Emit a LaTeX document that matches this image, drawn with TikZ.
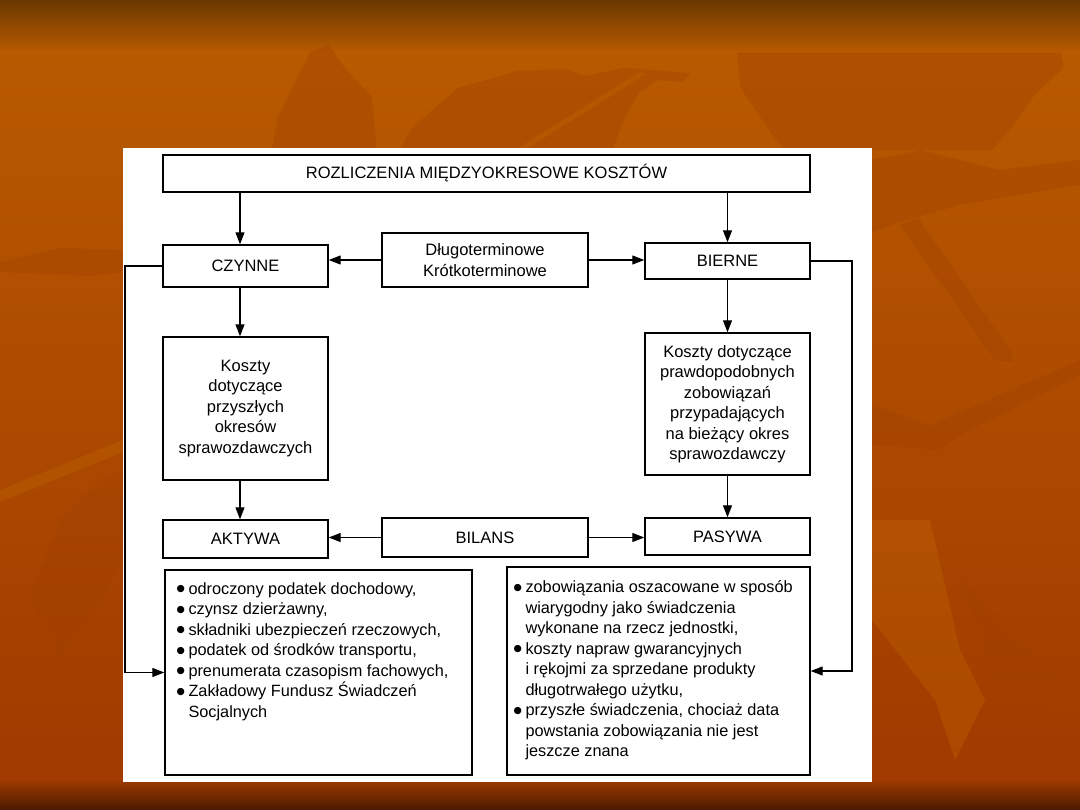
\documentclass[tikz,border=0pt]{standalone}
\usepackage{fontspec}
\setmainfont{Liberation Sans}
\newfontfamily\symf{DejaVu Sans}
\usetikzlibrary{arrows.meta,calc}
\definecolor{bgtop}{HTML}{6A3800}
\definecolor{bgmain}{HTML}{B85A00}
\definecolor{bglow}{HTML}{A03A00}
\definecolor{bgbot}{HTML}{4A1A00}
\definecolor{leafdark}{HTML}{A04000}
\definecolor{leaflight}{HTML}{C46C00}
\newcommand{\mybul}{\makebox[12pt][l]{\raisebox{2.4pt}{\symf\fontsize{9.5}{0}\selectfont ●}}}
\newcommand{\myind}{\hspace*{12pt}}
\begin{document}
\begin{tikzpicture}[x=1pt,y=-1pt,
  box/.style={draw=black, line width=1.4pt, fill=white, inner sep=0pt, align=center,
              font=\fontsize{16.5}{20.5}\selectfont},
  listtext/.style={inner sep=0pt, align=left, font=\fontsize{16.3}{20.5}\selectfont},
  arr/.style={draw=black, line width=1.2pt, -{Triangle[length=12pt,width=9pt]}},
  leafd/.style={fill=leafdark, opacity=0.35},
  leafl/.style={fill=leaflight, opacity=0.3}
]
\useasboundingbox (0,0) rectangle (1080,810);
% background
\shade[top color=bgtop, bottom color=bgmain] (0,0) rectangle (1080,52);
\shade[top color=bgmain, bottom color=bglow] (0,52) rectangle (1080,780);
\shade[top color=bglow, bottom color=bgbot] (0,780) rectangle (1080,810);
% decorative leaves
\fill[leafd] (272,150) -- (278,117) -- (310,52) -- (329,45) -- (344,67) -- (372,97) -- (377,150) -- cycle;
\fill[leafd] (399,150) -- (413,127) -- (458,88) -- (517,71) -- (565,69) -- (585,76) -- (623,68) -- (668,71) -- (691,74) -- (682,82) -- (658,80) -- (640,92) -- (627,113) -- (612,150) -- cycle;
\fill[leafl] (515,150) -- (640,72) -- (646,74) -- (525,150) -- cycle;
\fill[leafd] (737,53) -- (1061,53) -- (1064,67) -- (1033,97) -- (1012,127) -- (992,150) -- (785,150) -- (771,133) -- (740,87) -- cycle;
\fill[leafd] (0,262) -- (60,248) -- (123,250) -- (123,272) -- (90,276) -- (0,272) -- cycle;
\fill[leafl] (0,490) -- (123,440) -- (123,452) -- (0,502) -- cycle;
\fill[leafd] (30,600) -- (60,520) -- (100,480) -- (123,470) -- (123,560) -- (90,620) -- (60,660) -- cycle;
\fill[leafd] (872,160) -- (920,150) -- (1000,170) -- (1080,160) -- (1080,185) -- (960,205) -- (900,222) -- (872,232) -- cycle;
\fill[leafd] (900,225) -- (918,218) -- (1010,350) -- (1013,362) -- (995,360) -- cycle;
\fill[leafd] (872,405) -- (930,425) -- (1080,360) -- (1080,375) -- (960,435) -- (940,450) -- (872,445) -- cycle;
\fill[leafl] (872,520) -- (930,520) -- (960,650) -- (985,700) -- (955,760) -- (935,700) -- (872,620) -- cycle;
\fill[leafd] (960,580) -- (1030,650) -- (1060,680) -- (1080,690) -- (1080,715) -- (1000,700) -- cycle;
% white panel
\fill[white] (123,148) rectangle (872,782);
% boxes
\node[box, minimum width=647pt, minimum height=37pt] (top) at (486.5,173.5) {ROZLICZENIA MIĘDZYOKRESOWE KOSZTÓW};
\node[box, minimum width=165pt, minimum height=42pt] (czynne) at (245.5,266) {CZYNNE};
\node[box, minimum width=206pt, minimum height=54pt] (dlug) at (485,260) {Długoterminowe\\Krótkoterminowe};
\node[box, minimum width=165pt, minimum height=36pt] (bierne) at (727.5,261) {BIERNE};
\node[box, minimum width=165pt, minimum height=143pt] (kl) at (245.5,408.5) {Koszty\\dotyczące\\przyszłych\\okresów\\sprawozdawczych};
\node[box, minimum width=165pt, minimum height=142pt] (kr) at (727.5,404) {Koszty dotyczące\\prawdopodobnych\\zobowiązań\\przypadających\\na bieżący okres\\sprawozdawczy};
\node[box, minimum width=165pt, minimum height=38pt] (aktywa) at (245.5,539) {AKTYWA};
\node[box, minimum width=206pt, minimum height=39pt] (bilans) at (485,537.5) {BILANS};
\node[box, minimum width=165pt, minimum height=37pt] (pasywa) at (727.5,536.5) {PASYWA};
\node[box, minimum width=307pt, minimum height=205pt] (lbox) at (318.5,672.5) {};
\node[box, minimum width=303pt, minimum height=208pt] (rbox) at (658.5,671) {};
% list texts
\node[listtext, anchor=north west] (ltext) at ([shift={(12,13)}]lbox.north west) {%
\mybul odroczony podatek dochodowy,\\
\mybul czynsz dzierżawny,\\
\mybul składniki ubezpieczeń rzeczowych,\\
\mybul podatek od środków transportu,\\
\mybul prenumerata czasopism fachowych,\\
\mybul Zakładowy Fundusz Świadczeń\\
\myind Socjalnych};
\node[listtext, anchor=north west] (rtext) at ([shift={(7,14)}]rbox.north west) {%
\mybul zobowiązania oszacowane w sposób\\
\myind wiarygodny jako świadczenia\\
\myind wykonane na rzecz jednostki,\\
\mybul koszty napraw gwarancyjnych\\
\myind i rękojmi za sprzedane produkty\\
\myind długotrwałego użytku,\\
\mybul przyszłe świadczenia, chociaż data\\
\myind powstania zobowiązania nie jest\\
\myind jeszcze znana};
% helper coordinates for feedback lines
\coordinate (lx) at (125,0);
\coordinate (rx) at (852,0);
% connectors
\draw[arr] ([xshift=-5.5pt]czynne.north |- top.south) -- ([xshift=-5.5pt]czynne.north);
\draw[arr] (bierne.north |- top.south) -- (bierne.north);
\draw[arr] (dlug.west) -- (dlug.west -| czynne.east);
\draw[arr] (dlug.east) -- (dlug.east -| bierne.west);
\draw[arr] ([xshift=-5.5pt]czynne.south) -- ([xshift=-5.5pt]kl.north);
\draw[arr] (bierne.south) -- (kr.north);
\draw[arr] ([xshift=-5.5pt]kl.south) -- ([xshift=-5.5pt]aktywa.north);
\draw[arr] (kr.south) -- (pasywa.north);
\draw[arr] (bilans.west) -- (bilans.west -| aktywa.east);
\draw[arr] (bilans.east) -- (bilans.east -| pasywa.west);
\draw[arr] (czynne.west) -- (czynne.west -| lx) |- (lbox.west);
\draw[arr] (bierne.east) -- (bierne.east -| rx) |- (rbox.east);
\end{tikzpicture}
\end{document}
